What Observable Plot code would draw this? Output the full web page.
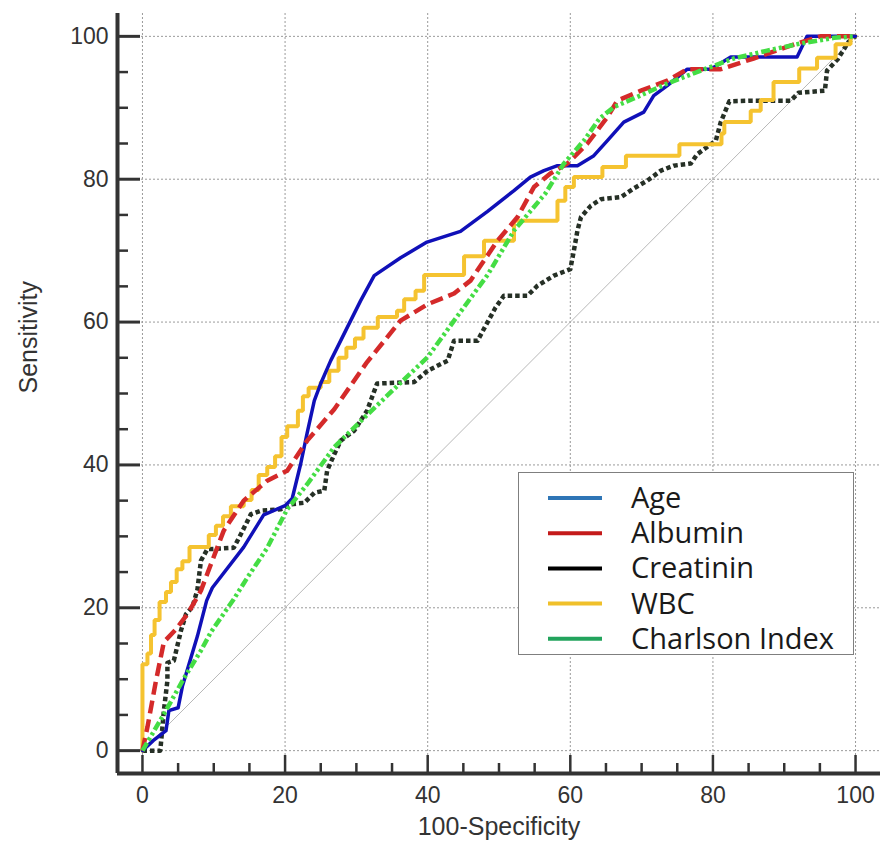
<!DOCTYPE html>
<html>
<head>
<meta charset="utf-8">
<script src="https://cdn.jsdelivr.net/npm/d3@7"></script>
<script src="https://cdn.jsdelivr.net/npm/@observablehq/plot@0.6"></script>
<style>
  body { margin: 0; background: #fff; }
  #wrap { position: relative; width: 880px; height: 846px; }
  #legend { position: absolute; left: 0; top: 0; pointer-events: none; }
</style>
</head>
<body>
<div id="wrap"><div id="chart"></div></div>
<script>
// ---- data (100-Specificity, Sensitivity) ----
const ageRoc = [[0,0],[1.5,1.4],[3.3,2.8],[3.7,5.6],[5,6],[5.6,9],[7.7,16],[9,21],[9.8,22.8],[14.2,28.5],[17,33],[20,34.3],[21,35.3],[22.2,40.2],[23.1,44.5],[24.1,49],[25,51.4],[26.4,54.6],[30.6,63],[32.5,66.5],[36.2,69],[39.9,71.2],[44.6,72.7],[48.4,75.5],[52.1,78.4],[54.4,80.3],[56.3,81.2],[58.2,81.9],[61,81.9],[63.3,83.3],[65.2,85.4],[67.5,88],[70.3,89.4],[71.7,91.7],[73.6,93.1],[76.4,95.4],[79.7,95.4],[82.5,97.1],[91.8,97.1],[93.2,100],[97.9,100],[100,100]];
const albuminRoc = [[0,0],[0.7,3.3],[1.9,9.8],[3,15.2],[4.7,17],[6.3,19.1],[8.2,22.4],[9.6,26.1],[11.4,30.8],[14.2,35],[17.5,37.8],[20.3,39.2],[23.1,43.4],[26.9,47.8],[31.5,54.4],[36.2,60.2],[40,62.5],[43.7,64],[46,65.8],[49.8,71.4],[52.6,74.7],[54.9,78.9],[57.2,80.8],[59.6,82.2],[62.4,85],[65.2,88.7],[66.6,91],[69.9,92.4],[73.6,93.8],[76.4,95.4],[81.1,95.4],[85.7,96.9],[91.8,99],[95.1,100],[100,100]];
const creatininRoc = [[0,0],[2.5,0],[2.8,3.3],[3,5.6],[3.5,9.8],[3.5,12.3],[4.4,12.6],[5.4,16.8],[6.1,19.1],[7,20.1],[7.7,22.5],[8.2,26.6],[9.1,28.2],[12.8,28.4],[13.8,30.3],[15.2,33.1],[16.6,33.6],[19.4,33.8],[20.8,34.5],[22.7,34.7],[24.1,36.1],[25.5,36.4],[25.9,39.2],[26.9,41.5],[27.8,43.4],[29.7,44.8],[31.5,47.6],[32.9,51.4],[38.1,51.6],[40,53.2],[42.8,54.6],[43.7,57.4],[47,57.4],[48.4,60],[49.5,62],[50.7,63.7],[54,63.7],[55.4,65.1],[57.7,66.5],[60,67.4],[60.5,70],[61,72.8],[61.5,74.7],[62.9,76.3],[64.3,77.2],[67.1,77.5],[68.9,78.7],[70.8,79.8],[72.7,81.2],[74.5,81.9],[76.9,82.2],[77.8,83.5],[80.4,85.4],[81.1,88],[82.3,90.9],[85.5,91],[90.9,91],[92,92.1],[95.7,92.4],[96,95.2],[97.5,96.8],[99,99.2],[100,100]];
const wbcRoc = [[0,0],[0,12.1],[0.7,13.6],[1.2,16.2],[1.7,18.3],[2.4,20.8],[3.3,22.2],[4,23.6],[4.8,25.4],[5.6,26.5],[6.6,28.5],[9.3,30.2],[10.3,31.5],[11.3,32.8],[12.4,34.2],[14.2,35.1],[15.3,36.5],[16.3,38.6],[17.5,39.7],[18.6,41.2],[19.5,43.9],[20.3,45.4],[21.8,47.6],[22.5,49.6],[23.3,50.8],[25,51.6],[26.2,53.2],[27.5,55],[28.6,56.4],[29.8,57.7],[31,59.2],[33,60.7],[35.7,61.6],[36.7,63.2],[38.3,64.4],[39.5,66.6],[45.1,69.2],[47.9,71.4],[52.1,74.2],[58.2,77],[59.3,78.9],[60.5,80.3],[64.5,81.7],[67.8,83.3],[75.3,84.9],[81.2,86.4],[81.6,88],[85.3,89.6],[86.7,91.1],[88.5,93.6],[92.1,95.5],[94.6,97],[97.2,98.9],[99.3,100],[100,100]];
const charlsonRoc = [[0,0],[3,5.1],[5.8,10.1],[8.2,14],[9.6,16.6],[12.8,21.2],[14.7,24.2],[17.5,28.4],[20.3,33.8],[23.1,37.3],[26.9,42.5],[31.5,47],[36.2,51.5],[40,55.1],[43.7,60.2],[48.4,66.6],[52.1,72.8],[56.5,78],[59.1,82.2],[61.9,85.4],[64.1,88.5],[66.1,90.1],[68.9,91.3],[73.6,93.4],[78.3,95.2],[82.9,96.9],[87.6,98],[92.3,99],[97,99.8],[100,100]];
const diagonal = [[0,0],[100,100]];

const legendNames = ["Age", "Albumin", "Creatinin", "WBC", "Charlson Index"];
const majorTicks = [0, 20, 40, 60, 80, 100];
const minorTicks = [5, 10, 15, 25, 30, 35, 45, 50, 55, 65, 70, 75, 85, 90, 95];
const xDomain = [-3.5, 103.5];
const yDomain = [-3.2, 103.2];
const xTitle = "100-Specificity";
const yTitle = "Sensitivity";

// ---- layout ----
const W = 880, H = 846;
const mL = 117, mR = 0, mT = 13, mB = 73;
const frameW = W - mL - mR, frameH = H - mT - mB;
const axisColor = "#333";
const fontMain = "'Liberation Sans', Arial, sans-serif";

const px = d => d[0], py = d => d[1];

const chart = Plot.plot({
  width: W, height: H,
  marginLeft: mL, marginRight: mR, marginTop: mT, marginBottom: mB,
  style: { fontFamily: fontMain, background: "#fff", overflow: "visible" },
  x: { domain: xDomain, axis: null },
  y: { domain: yDomain, axis: null },
  marks: [
    Plot.gridX(majorTicks, { stroke: "#9a9a9a", strokeOpacity: 1, strokeWidth: 1, strokeDasharray: "2,2" }),
    Plot.gridY(majorTicks, { stroke: "#9a9a9a", strokeOpacity: 1, strokeWidth: 1, strokeDasharray: "2,2" }),
    Plot.line(diagonal, { x: px, y: py, stroke: "#b8b8b8", strokeWidth: 1 }),
    // axis lines
    Plot.ruleX([xDomain[0]], { stroke: axisColor, strokeWidth: 4 }),
    Plot.ruleY([yDomain[0]], { stroke: axisColor, strokeWidth: 4 }),
    // inward ticks
    Plot.tickY(majorTicks, { y: d => d, insetRight: frameW - 23, stroke: axisColor, strokeWidth: 3 }),
    Plot.tickY(minorTicks, { y: d => d, insetRight: frameW - 11, stroke: axisColor, strokeWidth: 2.5 }),
    Plot.tickX(majorTicks, { x: d => d, insetTop: frameH - 18, stroke: axisColor, strokeWidth: 2.5 }),
    Plot.tickX(minorTicks, { x: d => d, insetTop: frameH - 10, stroke: axisColor, strokeWidth: 2.5 }),
    // tick labels
    Plot.axisY(majorTicks, { tickSize: 0, tickPadding: 9, fontSize: 23, fill: axisColor, label: null }),
    Plot.axisX(majorTicks, { tickSize: 0, tickPadding: 13, fontSize: 23, fill: axisColor, label: null }),
    // titles
    Plot.text([xTitle], { text: d => d, frameAnchor: "bottom", dy: 61, fontSize: 25, fill: axisColor }),
    Plot.text([yTitle], { text: d => d, frameAnchor: "left", dx: -89, rotate: -90, fontSize: 25, fill: axisColor }),
    // ROC curves
    Plot.line(creatininRoc, { x: px, y: py, stroke: "#263026", strokeWidth: 4.5, strokeDasharray: "4.5,3", strokeLinecap: "butt", strokeLinejoin: "round" }),
    Plot.line(wbcRoc, { x: px, y: py, curve: "step-after", stroke: "#f5c330", strokeWidth: 4, strokeLinejoin: "miter" }),
    Plot.line(ageRoc, { x: px, y: py, stroke: "#1010b8", strokeWidth: 3.5, strokeLinejoin: "round" }),
    Plot.line(albuminRoc, { x: px, y: py, stroke: "#d42a2a", strokeWidth: 4.5, strokeDasharray: "13,6", strokeLinecap: "butt" }),
    Plot.line(charlsonRoc, { x: px, y: py, stroke: "#44dd44", strokeWidth: 4.5, strokeDasharray: "9,3,3,3,3,3", strokeLinecap: "butt" })
  ]
});
document.getElementById("chart").appendChild(chart);

// ---- legend (inside the plot area, drawn as an overlay) ----
const legendColors = ["#2e75b6", "#c41a1a", "#000000", "#f0c02a", "#22a35c"];
const lg = d3.select("#wrap").append("svg")
  .attr("id", "legend").attr("width", W).attr("height", H);
lg.append("rect").attr("x", 518.5).attr("y", 472.5).attr("width", 335).attr("height", 182)
  .attr("fill", "#fff").attr("stroke", "#7f7f7f").attr("stroke-width", 1);
const rowY = i => 498 + i * 35.2;
legendNames.forEach((name, i) => {
  lg.append("line").attr("x1", 548).attr("x2", 602).attr("y1", rowY(i)).attr("y2", rowY(i))
    .attr("stroke", legendColors[i]).attr("stroke-width", 4);
  lg.append("text").attr("x", 631).attr("y", rowY(i) + 10)
    .attr("font-family", "'Open Sans', Lato, sans-serif").attr("font-size", 29)
    .attr("fill", "#1a1a1a").text(name);
});
</script>
</body>
</html>
